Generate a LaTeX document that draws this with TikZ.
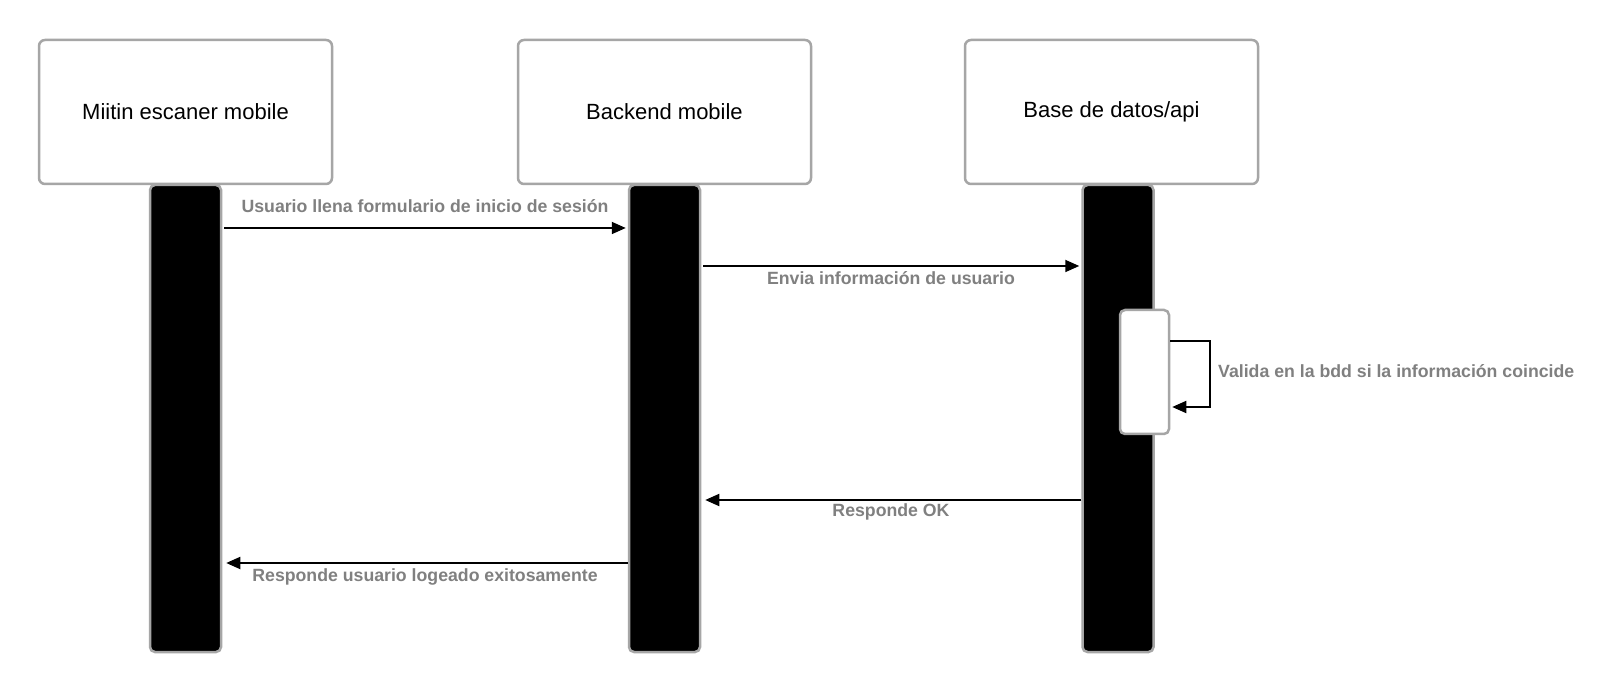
\documentclass[tikz,border=0pt]{standalone}
\usepackage{fontspec}
\setmainfont{Liberation Sans}
\usetikzlibrary{
    arrows.meta,
    calc,
    positioning
}
\definecolor{brdgray}{HTML}{A6A6A6}
\definecolor{lblgray}{HTML}{808080}
\tikzset{
    actr/.style={draw=brdgray, line width=2.5pt, rounded corners=6pt, fill=white,
        minimum width=293pt, minimum height=144pt, inner sep=0pt,
        font=\fontsize{22}{26}\selectfont},
    lfln/.style={draw=brdgray, line width=2.5pt, rounded corners=5pt, fill=black,
        minimum width=71pt, minimum height=467pt, inner sep=0pt},
    actv/.style={draw=brdgray, line width=2.5pt, rounded corners=5pt, fill=white,
        minimum width=49pt, minimum height=124pt, inner sep=0pt},
    msg/.style={line width=1.8pt, -{Triangle[length=14pt, width=12pt]}},
    lbl/.style={text=lblgray, inner sep=0pt, font=\fontsize{17.7}{20}\selectfont\bfseries}
}

\begin{document}
\begin{tikzpicture}[x=1pt, y=-1pt]
    \useasboundingbox[fill=white] (0, 0) rectangle (1615, 692);

    % participants
    \node[actr] (mitn) at (185.5, 112) {Miitin escaner mobile};
    \node[actr] (bknd) at (664.5, 112) {Backend mobile};
    \node[actr] (bdd) at (1111.5, 112) {Base de datos/api};

    % lifelines
    \node[lfln] (mitnln) at (185.5, 418.5) {};
    \node[lfln] (bkndln) at (664.5, 418.5) {};
    \node[lfln] (bddln) at (1118, 418.5) {};
    \node[actv] (vald) at (1144.5, 372) {};

    % messages
    \coordinate (m1) at (0, 228);
    \coordinate (m2) at (0, 266);
    \coordinate (m3) at (0, 500);
    \coordinate (m4) at (0, 563);
    \coordinate (lp1) at (1210, 341);
    \coordinate (lp2) at (1210, 407);

    \draw[msg, shorten <=2pt, shorten >=2pt] (mitnln.east |- m1) -- (bkndln.west |- m1);
    \node[lbl] (m1lbl) at (425, 206) {Usuario llena formulario de inicio de sesión};

    \draw[msg, shorten <=2pt, shorten >=2pt] (bkndln.east |- m2) -- (bddln.west |- m2);
    \node[lbl] (m2lbl) at (891, 278) {Envia información de usuario};

    \draw[msg, shorten >=2pt] (vald.east |- lp1) -- (lp1) -- (lp2) -- (vald.east |- lp2);
    \node[lbl, anchor=west] (lplbl) at (1218, 371) {Valida en la bdd si la información coincide};

    \draw[msg, shorten >=4pt] (bddln.west |- m3) -- (bkndln.east |- m3);
    \node[lbl] (m3lbl) at (891, 512) {Responde OK};

    \draw[msg, shorten >=4pt] (bkndln.west |- m4) -- (mitnln.east |- m4);
    \node[lbl] (m4lbl) at (425, 577) {Responde usuario logeado exitosamente};
\end{tikzpicture}
\end{document}
